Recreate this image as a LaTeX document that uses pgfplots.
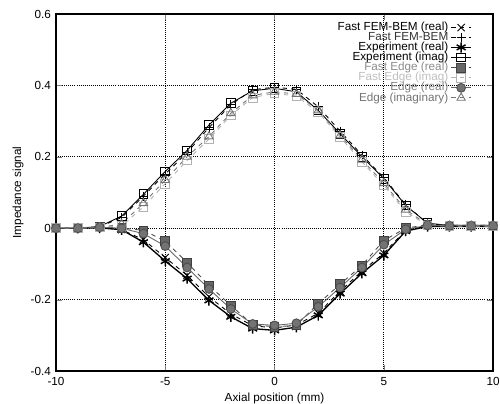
\documentclass[border=0pt]{standalone}
\usepackage{fontspec}
\setmainfont{Liberation Sans}
\usepackage{pgfplots}
\pgfplotsset{compat=1.18}
\usepackage{pgfplotstable}
\pgfplotstableread{
x   femr    femi    expr    expi    fer     fei     edr     edi
-10 0       0       0       0       0       0       0       0
-9  0       0       0       0       0       0       0       0
-8  0.002   0.004   0.001   0.005   0.004   0.002   0.003   0.002
-7  -0.004  0.030   -0.004  0.034   0.001   0.006   0.000   0.012
-6  -0.032  0.090   -0.039  0.095   -0.006  0.060   -0.015  0.070
-5  -0.082  0.152   -0.092  0.159   -0.036  0.125   -0.050  0.135
-4  -0.132  0.212   -0.141  0.218   -0.096  0.190   -0.110  0.200
-3  -0.192  0.282   -0.202  0.289   -0.160  0.250   -0.170  0.257
-2  -0.240  0.346   -0.248  0.350   -0.216  0.316   -0.226  0.322
-1  -0.273  0.388   -0.281  0.385   -0.270  0.366   -0.268  0.372
0   -0.279  0.395   -0.286  0.392   -0.276  0.378   -0.272  0.382
1   -0.271  0.389   -0.277  0.382   -0.272  0.370   -0.266  0.376
2   -0.238  0.340   -0.244  0.330   -0.211  0.325   -0.220  0.330
3   -0.176  0.272   -0.183  0.265   -0.157  0.255   -0.166  0.260
4   -0.120  0.205   -0.126  0.200   -0.104  0.186   -0.110  0.192
5   -0.070  0.142   -0.076  0.139   -0.034  0.120   -0.046  0.126
6   -0.005  0.066   -0.008  0.064   0.000   0.046   -0.003  0.052
7   0.006   0.013   0.005   0.014   0.010   0.008   0.008   0.010
8   0.006   0.008   0.005   0.008   0.008   0.006   0.007   0.007
9   0.006   0.008   0.005   0.008   0.008   0.006   0.007   0.007
10  0.006   0.008   0.005   0.008   0.008   0.006   0.007   0.007
}\data
\begin{document}
\begin{tikzpicture}
\path[use as bounding box] (-1.344cm,-0.77cm) rectangle (10.656cm,8.906cm);
\begin{axis}[
  at={(0,0)}, anchor=south west,
  scale only axis, width=10.49cm, height=8.57cm,
  xmin=-10, xmax=10, ymin=-0.4, ymax=0.6,
  xtick={-10,-5,0,5,10}, ytick={-0.4,-0.2,0,0.2,0.4,0.6},
  tick align=inside, major tick length=4pt,
  axis line style={line width=1pt},
  grid=major, grid style={black, densely dotted, line width=0.7pt},
  /pgf/number format/assume math mode=true,
  tick label style={font=\fontsize{8}{9}\selectfont},
  label style={font=\fontsize{8}{9}\selectfont},
  xticklabel style={yshift=-1pt},
  xlabel={Axial position (mm)}, ylabel={Impedance signal},
  xlabel style={yshift=2pt}, ylabel style={yshift=-2pt},
  mark size=3pt,
  every axis plot/.append style={line width=0.6pt},
  legend plot pos=right, legend cell align=right,
  legend style={at={(0.962,0.992)}, anchor=north east, draw=none, fill=none,
    font=\fontsize{8}{8}\selectfont, row sep=-3.4pt,
    nodes={inner sep=1.5pt}},
  legend image code/.code={\draw[mark repeat=2,mark phase=2,#1] plot coordinates {(0cm,0cm) (0.24cm,0cm) (0.48cm,0cm)};},
]
\addplot[black, dashed, mark=x, mark size=3.5pt, mark options={solid}] table[x=x,y=femr]{\data};
\addlegendentry{Fast FEM-BEM (real)}
\addplot[black, dashed, mark=+, mark options={solid}] table[x=x,y=femi]{\data};
\addlegendentry{\textcolor{black!80}{Fast FEM-BEM}}
\addplot[black, solid, line width=0.9pt, mark=asterisk, mark size=3.5pt, mark options={line width=1pt}] table[x=x,y=expr]{\data};
\addlegendentry{Experiment (real)}
\addplot[black, solid, mark=square, mark options={fill=white}] table[x=x,y=expi]{\data};
\addlegendentry{Experiment (imag)}
\addplot[black!70, dashed, mark=square*, mark options={solid, fill=black!60, draw=black!75}] table[x=x,y=fer]{\data};
\addlegendentry{\textcolor{black!45}{Fast Edge (real)}}
\addplot[black!30, dashed, mark=square, mark options={solid}] table[x=x,y=fei]{\data};
\addlegendentry{\textcolor{black!25}{Fast Edge (imag)}}
\addplot[black!60, solid, mark=*, mark options={fill=black!55, draw=black!70}] table[x=x,y=edr]{\data};
\addlegendentry{\textcolor{black!50}{Edge (real)}}
\addplot[black!55, dashed, mark=triangle, mark size=3.3pt, mark options={solid}] table[x=x,y=edi]{\data};
\addlegendentry{\textcolor{black!55}{Edge (imaginary)}}
\end{axis}
\end{tikzpicture}
\end{document}
